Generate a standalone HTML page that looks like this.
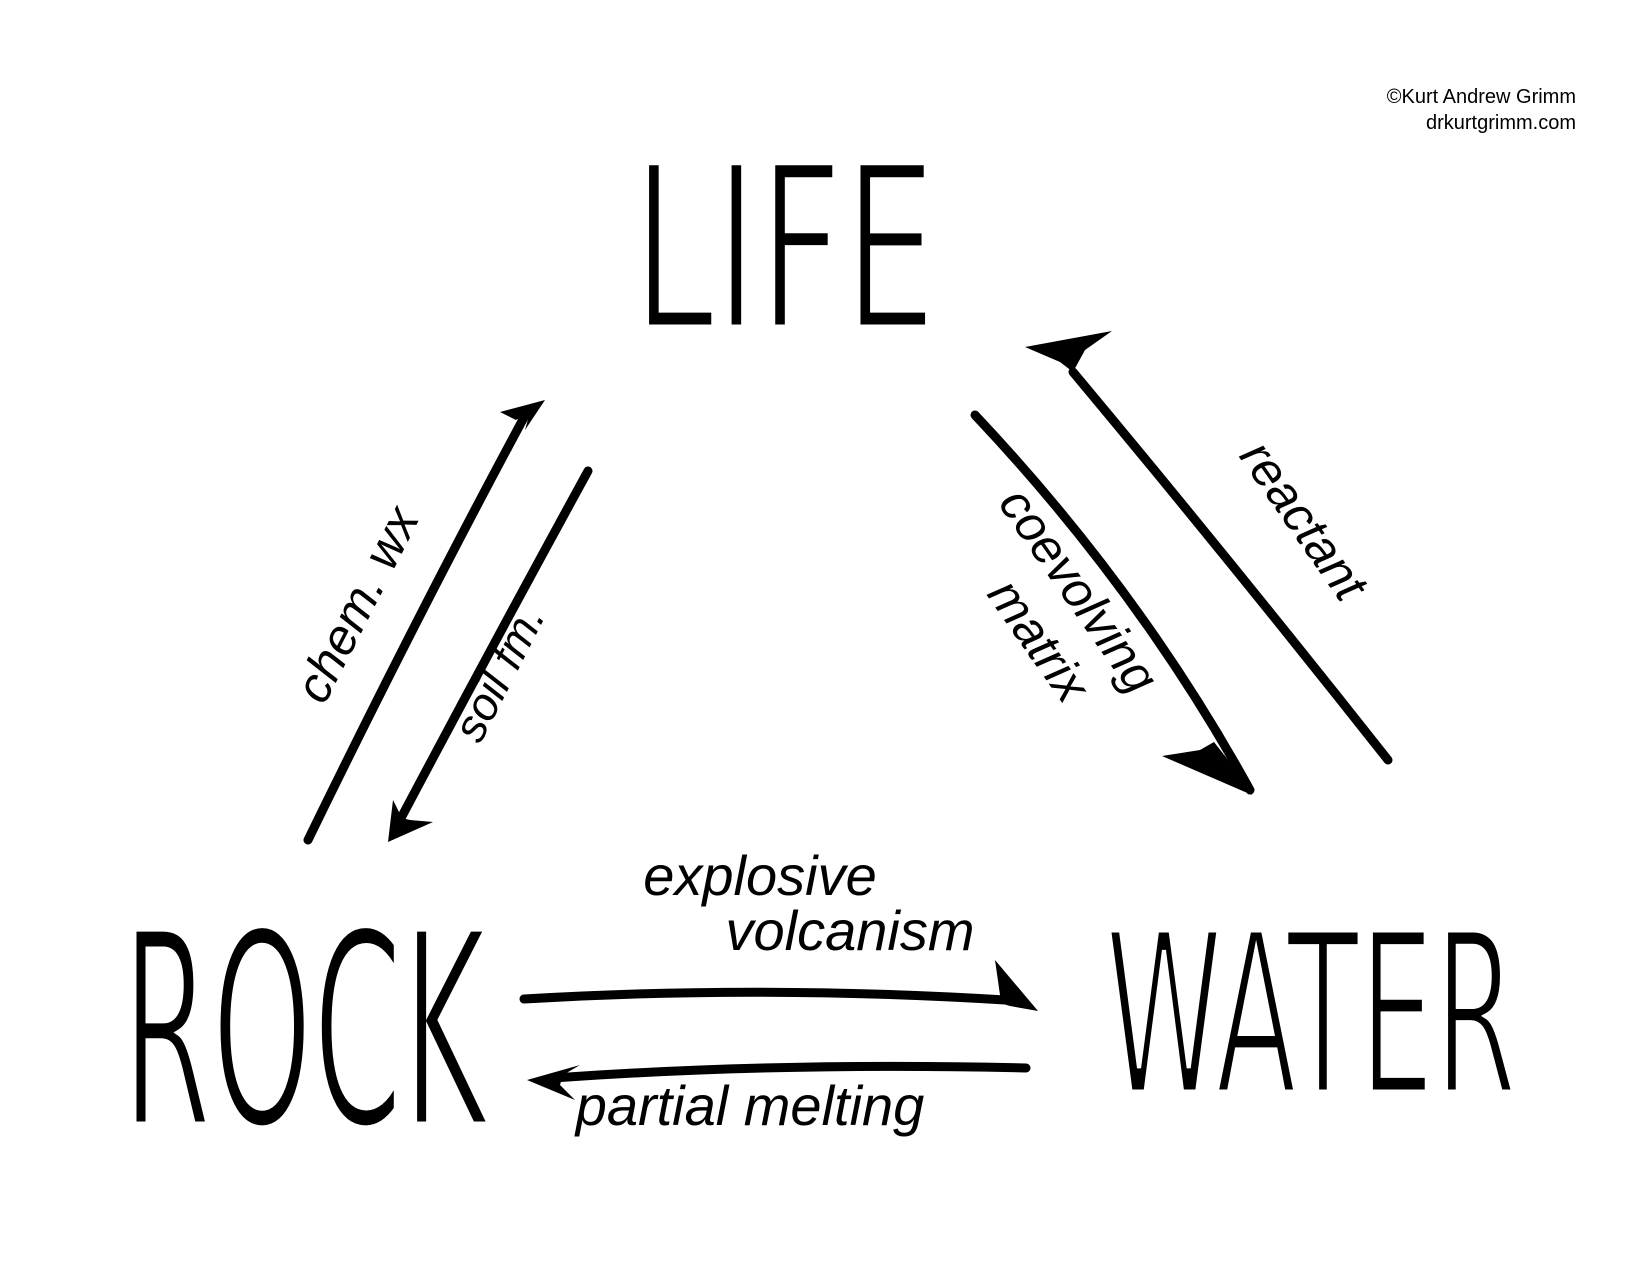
<!DOCTYPE html>
<html><head><meta charset="utf-8"><style>
html,body{margin:0;padding:0;background:#fff;}
svg{display:block}
.big{font-family:"DejaVu Sans Condensed","Liberation Sans Narrow","Liberation Sans",sans-serif;fill:#000;stroke:#fff;stroke-width:7px;paint-order:fill stroke;}
.lbl{font-family:"Liberation Sans Narrow","Liberation Sans",sans-serif;font-style:italic;fill:#000;}
</style></head><body>
<svg width="1650" height="1275" viewBox="0 0 1650 1275" xmlns="http://www.w3.org/2000/svg">
<text x="1576" y="103" text-anchor="end" font-family="Liberation Sans, sans-serif" font-size="20">©Kurt Andrew Grimm</text>
<text x="1576" y="129" text-anchor="end" font-family="Liberation Sans, sans-serif" font-size="20">drkurtgrimm.com</text>

<text class="big" x="632" y="328" font-size="228" textLength="305" lengthAdjust="spacingAndGlyphs">LIFE</text>
<text class="big" x="122" y="1125" font-size="270" textLength="365" lengthAdjust="spacingAndGlyphs">ROCK</text>
<text class="big" x="1105" y="1093" font-size="225" textLength="412" lengthAdjust="spacingAndGlyphs">WATER</text>

<g fill="none" stroke="#000" stroke-width="9" stroke-linecap="round">
<path d="M308 840 Q420 610 528 410"/>
<path d="M588 471 Q490 650 400 820"/>
<path d="M975 415 Q1140 590 1250 790"/>
<path d="M1388 760 Q1230 560 1073 372"/>
<path d="M524 999 Q760 985 1005 1000"/>
<path d="M1026 1068 Q780 1062 553 1078"/>
</g>
<g fill="#000">
<polygon points="545,400 500,412 516,420 530,412 525,430"/>
<polygon points="388,842 393,800 402,818 410,820 433,822"/>
<polygon points="1252,795 1162,756 1200,750 1214,742 1240,775"/>
<polygon points="1025,347 1112,331 1085,350 1073,372 1060,362"/>
<polygon points="1038,1011 995,960 1000,995 1000,1003 1010,1006"/>
<polygon points="527,1080 580,1065 563,1075 560,1085 575,1100"/>
</g>

<g class="lbl">
<text transform="translate(372,612) rotate(-63)" font-size="50" text-anchor="middle">chem. wx</text>
<text transform="translate(513,680) rotate(-63)" font-size="46" text-anchor="middle">soil fm.</text>
<text transform="translate(1065,600) rotate(55)" font-size="50" text-anchor="middle">coevolving</text>
<text transform="translate(1025,650) rotate(55)" font-size="50" text-anchor="middle">matrix</text>
<text transform="translate(1290,530) rotate(55)" font-size="50" text-anchor="middle">reactant</text>
<text x="760" y="895" font-size="56" text-anchor="middle">explosive</text>
<text x="850" y="950" font-size="56" text-anchor="middle">volcanism</text>
<text x="750" y="1125" font-size="56" text-anchor="middle">partial melting</text>
</g>
</svg>
</body></html>
